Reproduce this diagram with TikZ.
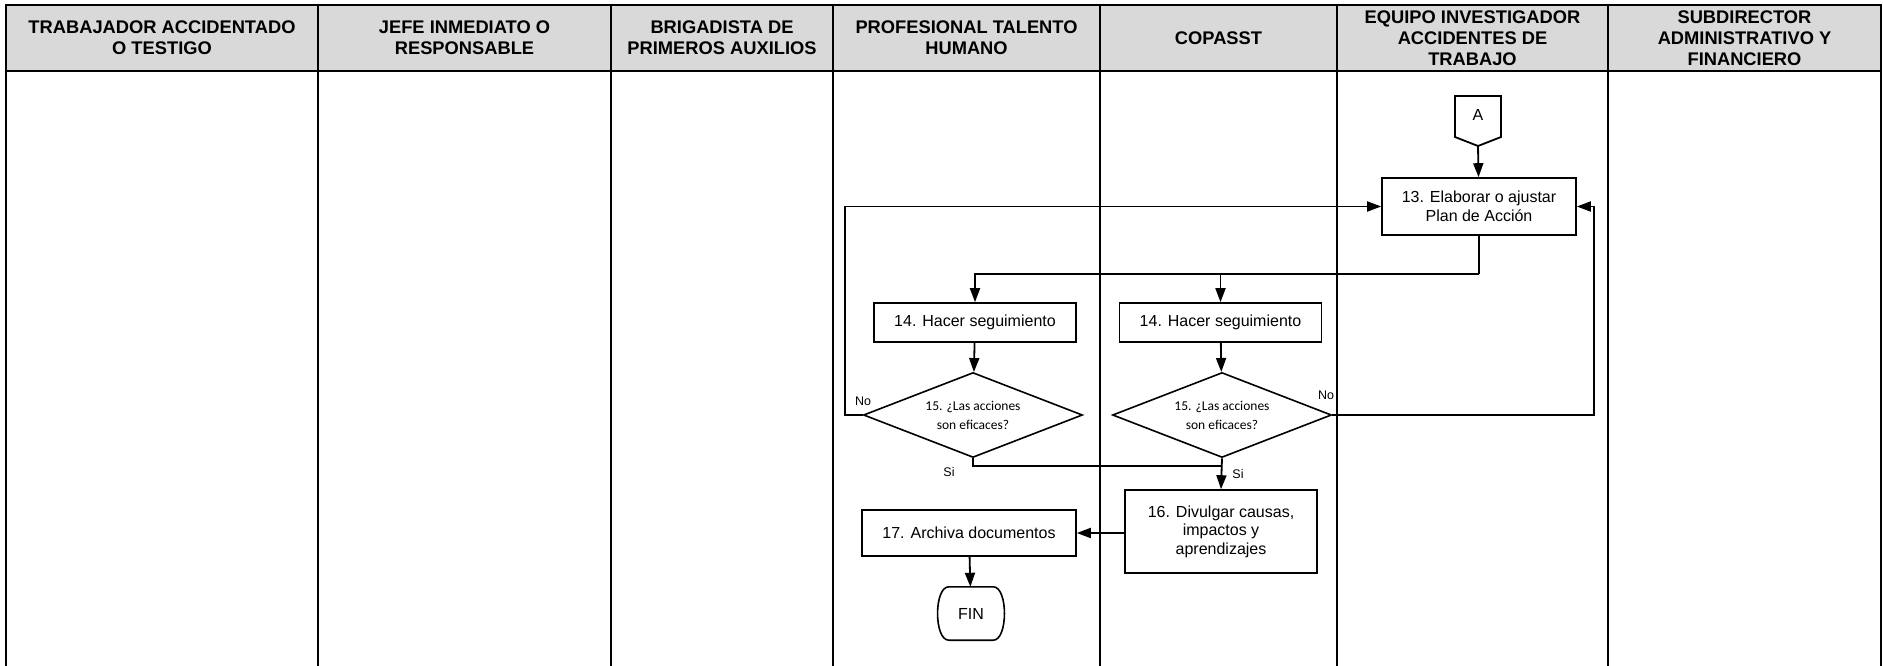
\documentclass[tikz,border=0pt]{standalone}
\usepackage{fontspec}
\setmainfont{Liberation Sans}
\newfontfamily\calibri{Carlito}
\usetikzlibrary{arrows.meta,shapes.geometric}
\definecolor{headgray}{RGB}{217,217,217}

\begin{document}
\begin{tikzpicture}[x=1pt,y=-1pt,
  lane/.style={line width=2.6pt},
  box/.style={draw, line width=1.6pt, align=center, inner sep=2pt, font=\fontsize{16}{18.5}\selectfont},
  decision/.style={draw, diamond, shape aspect=2.58, line width=1.6pt, align=center, inner sep=0pt, font=\calibri\fontsize{13.5}{19}\selectfont},
  flow/.style={line width=1.8pt, -{Triangle[length=14pt,width=10pt]}},
  link/.style={line width=1.8pt},
  lbl/.style={font=\fontsize{12.5}{14}\selectfont}
]
\useasboundingbox (0,0) rectangle (1883,666);
% lanes
\fill[headgray] (6,5) rectangle (1881,71);
\foreach \x in {318,611,833,1100,1337,1608}{
  \draw[lane] (\x,5)--(\x,666);
}
\draw[lane] (6,666)--(6,5)--(1881,5)--(1881,666);
\draw[lane] (6,71)--(1881,71);
\foreach \l/\r/\t in {6/318/{TRABAJADOR ACCIDENTADO\\O TESTIGO},
  318/611/{JEFE INMEDIATO O\\RESPONSABLE},
  611/833/{BRIGADISTA DE\\PRIMEROS AUXILIOS},
  833/1100/{PROFESIONAL TALENTO\\HUMANO},
  1100/1337/{COPASST},
  1337/1608/{EQUIPO INVESTIGADOR\\ACCIDENTES DE\\TRABAJO},
  1608/1881/{SUBDIRECTOR\\ADMINISTRATIVO Y\\FINANCIERO}}{
  \node[align=center, font=\bfseries\fontsize{18.3}{21}\selectfont] (head\l) at ({(\l+\r)/2},38) {\t};
}
% steps
\draw[link] (1455,96)--(1501,96)--(1501,137)--(1478,146)--(1455,137)--cycle;
\node[font=\fontsize{16}{18}\selectfont] (conA) at (1478,115) {A};
\coordinate (conAtip) at (1478,146);
\node[box, minimum width=194pt, minimum height=57pt] (plan) at (1479,206.5) {13. Elaborar o ajustar\\Plan de Acción};
\node[box, minimum width=202pt, minimum height=39pt] (segA) at (975,322.5) {14. Hacer seguimiento};
\node[box, minimum width=202pt, minimum height=39pt] (segB) at (1220.5,322.5) {14. Hacer seguimiento};
\node[decision, minimum width=219pt, minimum height=85pt] (efA) at (973,415) {15. ¿Las acciones\\son eficaces?};
\node[decision, minimum width=219pt, minimum height=85pt] (efB) at (1222,415) {15. ¿Las acciones\\son eficaces?};
\node[box, minimum width=192pt, minimum height=83pt] (divulgar) at (1221,531.5) {16. Divulgar causas,\\impactos y\\aprendizajes};
\node[box, minimum width=214pt, minimum height=46pt] (archiva) at (969,533) {17. Archiva documentos};
\node[minimum width=68pt, minimum height=53pt, font=\fontsize{16}{18}\selectfont] (fin) at (971,613.5) {FIN};
\draw[line width=1.6pt] ([xshift=12pt]fin.north west) -- ([xshift=-12pt]fin.north east)
  .. controls ([xshift=3pt]fin.north east) and ([xshift=3pt]fin.south east) .. ([xshift=-12pt]fin.south east)
  -- ([xshift=12pt]fin.south west)
  .. controls ([xshift=-3pt]fin.south west) and ([xshift=-3pt]fin.north west) .. cycle;
% connectors
\coordinate (split) at (1479,274);
\coordinate (loopA) at (845,415);
\coordinate (loopB) at (1594,415);
\coordinate (join) at (1222,466);
\draw[flow] (conAtip) -- (plan);
\draw[link] (plan.south) -- (split);
\draw[flow] (split) -| (segA.north);
\draw[flow] (segB.north |- split) -- (segB.north);
\draw[flow] (segA) -- (efA);
\draw[flow] (segB) -- (efB);
\draw[flow] (efA.west) -- (loopA) |- (plan.west);
\draw[flow] (efB.east) -- (loopB) |- (plan.east);
\draw[link] (efA.south) |- (join);
\draw[flow] (efB.south) -- (divulgar.north);
\draw[flow] (divulgar.west |- archiva.east) -- (archiva.east);
\draw[flow] (archiva) -- (fin);
\node[lbl] (noA) at (863,401) {No};
\node[lbl] (noB) at (1326,395) {No};
\node[lbl] (siA) at (949,472) {Si};
\node[lbl] (siB) at (1238,474) {Si};
\end{tikzpicture}
\end{document}
